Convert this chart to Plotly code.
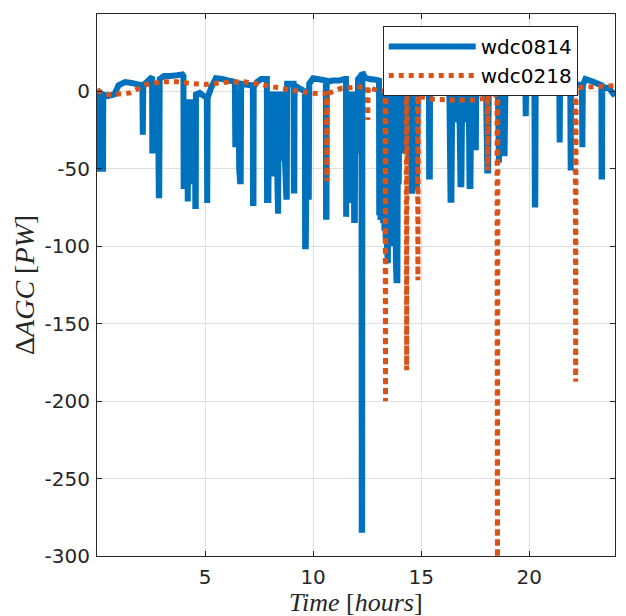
import plotly.graph_objects as go

# ---- data ----
blue_t = [0.0, 0.08, 0.09, 0.28, 0.29, 0.5, 0.8, 1.0, 1.3, 1.6, 1.9,
          2.1, 2.12, 2.14,
          2.45, 2.55, 2.56, 2.6, 2.63, 2.67, 2.7, 2.74, 2.78, 2.82, 2.86, 2.88, 2.9,
          3.1, 3.4, 3.7, 3.95,
          4.0, 4.01, 4.04, 4.07, 4.1, 4.13, 4.16, 4.2, 4.23, 4.26, 4.29, 4.32, 4.35,
          4.38, 4.41, 4.44, 4.47, 4.5, 4.53, 4.55, 4.57, 4.58,
          4.75, 4.95, 5.08, 5.1, 5.12, 5.3, 5.5, 5.8, 6.1, 6.3,
          6.38, 6.4, 6.43, 6.46, 6.49, 6.52, 6.55, 6.58, 6.62, 6.65, 6.67,
          6.9, 7.1, 7.21, 7.22, 7.24, 7.25, 7.4, 7.6, 7.8,
          7.86, 7.87, 7.9, 7.93, 7.96, 7.99, 8.02, 8.05, 8.08, 8.11, 8.14, 8.17, 8.2,
          8.23, 8.26, 8.29, 8.32, 8.35, 8.38, 8.41, 8.44, 8.47, 8.5, 8.54, 8.57, 8.6,
          8.63, 8.66, 8.7, 8.76, 8.78, 8.8, 9.0, 9.1, 9.11, 9.13, 9.14,
          9.35, 9.5, 9.62, 9.63, 9.66, 9.7, 9.74, 9.78, 9.8, 9.82,
          10.0, 10.2, 10.4, 10.59, 10.6, 10.62, 10.63,
          10.9, 11.2, 11.45,
          11.52, 11.53, 11.56, 11.59, 11.62, 11.65, 11.68, 11.71, 11.74, 11.77, 11.8,
          11.83, 11.86, 11.9, 11.93, 11.96, 12.0, 12.03, 12.06, 12.08,
          12.2, 12.24, 12.25, 12.27, 12.28, 12.4, 12.6, 12.9,
          13.05, 13.06, 13.09, 13.12, 13.15, 13.18, 13.21, 13.24, 13.27, 13.3, 13.33,
          13.36, 13.39, 13.42, 13.46, 13.5, 13.53, 13.56, 13.59, 13.62, 13.65, 13.68,
          13.71, 13.74, 13.77, 13.8, 13.83, 13.86, 13.9, 13.93, 13.96, 14.0,
          14.05, 14.1, 14.15, 14.2, 14.25, 14.3, 14.35, 14.4, 14.45, 14.5, 14.55,
          14.58, 14.62, 14.66, 14.7, 14.74, 14.78, 14.8, 14.85, 14.9,
          15.1, 15.36, 15.37, 15.4, 15.41, 15.8, 16.3,
          16.36, 16.4, 16.44, 16.48, 16.52, 16.56, 16.6, 16.64, 16.68, 16.72, 16.76,
          16.82, 16.86, 16.9, 16.95, 17.0, 17.05, 17.1, 17.15, 17.2, 17.24, 17.28, 17.32,
          17.48, 17.5, 17.53, 17.55, 18.0,
          18.06, 18.1, 18.13, 18.55, 18.6, 18.63, 18.66, 18.7, 18.74, 18.78, 18.83,
          18.86, 18.9,
          19.3, 19.7, 19.82, 19.84, 19.86, 20.24, 20.26, 20.28, 20.3,
          20.7, 21.1, 21.39, 21.41, 21.43, 21.9, 21.92, 21.94, 22.44, 22.46, 22.48,
          22.6, 23.0, 23.34, 23.35, 23.37, 23.38, 23.7, 23.97]
blue_v = [1, 0, -50, -50, -2, -3, -2, 4, 6, 5.5, 4.5,
          4, -28, 4,
          8, 9.5, -40, 5, -40, 5, -40, 5, -40, 5, -67, -67, 8,
          10, 10, 10.5, 11,
          10, -63, -10, -58, -5, -60, -5, -71, -5, -55, -5, -58, -5,
          -55, -5, -60, -5, -58, -5, -74, -74, -2,
          -1, -3, -4, -72, -4, 3, 8.5, 8, 7, 6.5,
          6, -36, 0, -36, 0, -36, 0, -50, -58, -58, 5,
          4.5, 4, 4, -72, -72, 3, 6, 8, 8,
          8, -72, 0, -72, 0, -45, 0, -50, 0, -55, 0, -40, 0,
          -45, 0, -50, 0, -60, -79, 0, -45, 0, -40, 0, -40, 0,
          -45, 0, -45, -68, -68, 5, 5, 5, -64, -64, 4,
          2, 1, 0, -100, -100, -40, 0, -68, -68, 5,
          8.5, 8, 7.5, 7, -81, -81, 6,
          7, 7, 8,
          8, -81, 0, -60, 0, -65, 0, -65, 0, -72, 0,
          -65, 0, -83, -83, 0, -40, 0, -30, 8,
          10, 11, -283, -283, 12.6, 9, 8, 7.5,
          7, -80, 0, -83, 0, -80, 0, -85, 0, -90, 0,
          -95, 0, -100, -111, 0, -100, 0, -95, 0, -100, 0,
          -95, 0, -100, 0, -110, -122, -122, 0, -60, 0,
          -40, 0, -40, 0, -40, 0, -40, 0, -45, 0, -50,
          -66, 0, -50, 0, -55, 0, -64, 0, 5,
          5, 5, -55, -55, 5, 6, 7,
          -70, -70, 0, -20, 0, -20, 0, -20, 0, -20, 0,
          -60, -60, 0, -20, 0, -20, 0, -20, 0, -61, -61, 5,
          5, -36, -36, 5, 4,
          -51, -51, 4, 4, -46, 0, -30, 0, -30, 0, -40,
          -40, 3,
          5, 7, 7, -16, 7, 7, -73, -73, 7,
          8, 8, 7, -33, 7, 5, -51, 5, 4, -36, 4,
          8, 6, 4, -55, -55, 3, 2, -3]

orange_t = [0.0, 0.6, 1.5, 2.3, 3.0, 3.7, 4.3, 5.0, 6.0, 6.8, 7.6, 8.5, 9.4, 10.0,
            10.62, 10.64, 10.66, 11.3, 12.0, 12.51, 12.53, 12.55, 13.0,
            13.33, 13.35, 13.37, 14.0, 14.31, 14.33, 14.35, 14.83, 14.85, 14.87,
            15.5, 16.5, 17.5, 18.06, 18.08, 18.1, 18.51, 18.53, 18.55,
            19.3, 20.1, 21.0, 22.13, 22.15, 22.17, 23.0, 23.97]
orange_v = [0.5, -2.3, -1.0, 4.5, 6.3, 6.3, 5.2, 4.5, 6.0, 6.3, 4.5, 2.0, 0, -1.2,
            -1.5, -58, -1.5, 2.0, 2.8, 2.8, -18.5, 2.8, 0.5,
            0, -200, 0, -0.5, -1, -180, -1, -2, -122, -3,
            -5, -5.5, -5.5, -4, -51, -3, -2, -330, -1,
            0, 2.5, 2.5, 2.5, -187.5, 2.5, 3, 3.8]

x_ticks = [5, 10, 15, 20]
y_ticks = [-300, -250, -200, -150, -100, -50, 0, 50]
y_ticktext = ["-300", "-250", "-200", "-150", "-100", "-50", "0", "50"]

BLUE = "#0072BD"
ORANGE = "#D95319"
AXC = "#262626"
GRID = "#e0e0e0"

fig = go.Figure()
fig.add_trace(go.Scatter(x=blue_t, y=blue_v, mode="lines", name="wdc0814",
                         line=dict(color=BLUE, width=6, simplify=False)))
fig.add_trace(go.Scatter(x=orange_t, y=orange_v, mode="lines", name="wdc0218",
                         line=dict(color=ORANGE, width=5, dash="dot", simplify=False)))

axis_common = dict(showline=True, linecolor=AXC, linewidth=1, mirror="ticks",
                   ticks="inside", ticklen=5, tickcolor=AXC, showgrid=True,
                   gridcolor=GRID, gridwidth=1, zeroline=False, automargin=False,
                   tickfont=dict(family="DejaVu Sans", size=20, color=AXC))

fig.update_xaxes(range=[0.0, 23.97], tickvals=x_ticks, ticklabelstandoff=3, **axis_common)
fig.update_yaxes(range=[-300, 50], tickvals=y_ticks, ticktext=y_ticktext,
                 ticklabelstandoff=2, **axis_common)

# the page adds an 8px body margin, so the figure is 8px smaller and shifted
fig.update_layout(
    width=618, height=608,
    margin=dict(l=89, r=11, t=6, b=60, autoexpand=False),
    paper_bgcolor="white", plot_bgcolor="white",
    showlegend=True,
    legend=dict(x=0.5516, y=0.978, xanchor="left", yanchor="top",
                bgcolor="white", bordercolor=AXC, borderwidth=1,
                font=dict(family="DejaVu Sans", size=20, color="black"),
                itemwidth=87, tracegroupgap=0),
    annotations=[
        dict(text="<i>Time</i> [<i>hours</i>]", xref="paper", yref="paper",
             x=0.5, y=-0.0867, xanchor="center", yanchor="middle", showarrow=False,
             font=dict(family="Liberation Serif", size=26, color=AXC)),
        dict(text="Δ<i>AGC</i> [<i>PW</i>]", xref="paper", yref="paper",
             x=-0.141, y=0.5, xanchor="center", yanchor="middle", showarrow=False,
             textangle=-90,
             font=dict(family="Liberation Serif", size=28, color=AXC)),
    ],
)

fig.write_html("out.html")
